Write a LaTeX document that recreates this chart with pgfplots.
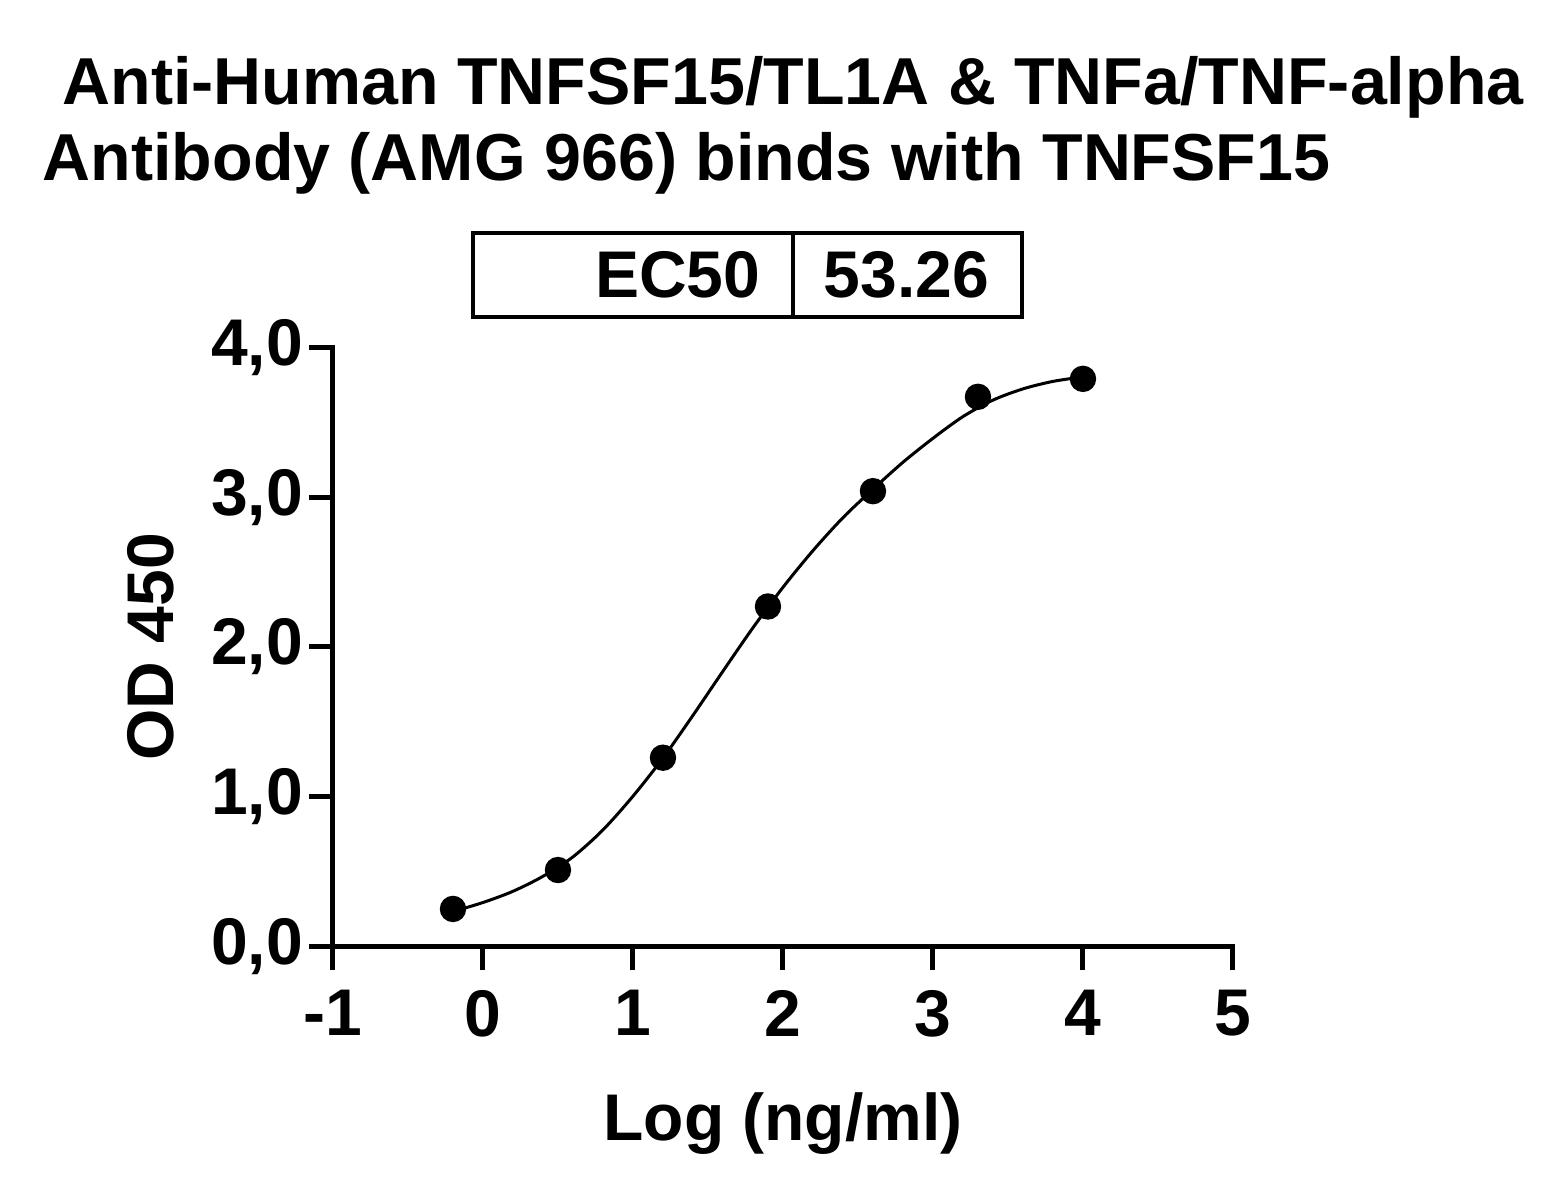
\documentclass[border=0pt]{standalone}
\usepackage{pgfplots}
\pgfplotsset{compat=1.18}
\usepackage{fontspec}
\setmainfont{Liberation Sans}
\begin{document}
\begin{tikzpicture}
\begin{axis}[
  scale only axis, width=225pt, height=149.75pt,
  xmin=-1, xmax=5, ymin=0, ymax=4,
  axis x line*=bottom, axis y line*=left,
  axis line style={line width=1.25pt, line cap=rect},
  tick align=outside,
  xtick={-1,0,1,2,3,4,5}, ytick={0,1,2,3,4},
  minor tick num=0,
  major tick length=6pt,
  tick style={line width=1.25pt, black},
  font=\fontsize{16.5}{19}\selectfont\bfseries,
  /pgf/number format/assume math mode=true,
  yticklabel style={xshift=2pt, /pgf/number format/.cd, fixed, fixed zerofill, precision=1, use comma},
  xticklabel style={yshift=-1.5pt, /pgf/number format/.cd, fixed, precision=0},
  xlabel={Log (ng/ml)},
  ylabel={OD 450},
  xlabel style={yshift=-7pt, font=\fontsize{16.5}{19}\selectfont\bfseries},
  ylabel style={yshift=2.5pt, font=\fontsize{16.5}{19}\selectfont\bfseries},
  clip=false,
]
\path (axis cs:-3.22,-1.647) rectangle (axis cs:7.227,6.32);
% fitted curve (traced)
\addplot[black, line width=0.75pt, smooth, no marks] coordinates {
(-0.2,0.233) (0.0,0.293) (0.2,0.368) (0.4,0.468) (0.6,0.598) (0.8,0.778)
(1.0,1.003) (1.2,1.258) (1.4,1.543) (1.6,1.838) (1.8,2.128) (2.0,2.398)
(2.2,2.643) (2.4,2.863) (2.6,3.053) (2.8,3.233) (3.0,3.393) (3.2,3.538)
(3.4,3.648) (3.6,3.723) (3.8,3.773) (4.0,3.803)
};
% data points
\addplot[only marks, mark=*, mark size=3.1pt, black] coordinates {
(-0.2,0.25) (0.5,0.51) (1.2,1.26) (1.9,2.27) (2.6,3.04) (3.3,3.67) (4.0,3.79)
};
% EC50 box
\draw[line width=1pt] (axis cs:-0.067,4.2) rectangle (axis cs:3.593,4.767);
\draw[line width=1pt] (axis cs:2.067,4.2) -- (axis cs:2.067,4.767);
\node[anchor=base east, inner sep=0pt, font=\fontsize{16.5}{19}\selectfont\bfseries] at (axis cs:1.853,4.33) {EC50};
\node[anchor=base west, inner sep=0pt, font=\fontsize{16.5}{19}\selectfont\bfseries] at (axis cs:2.267,4.33) {53.26};
% title
\node[anchor=base west, inner sep=0pt, font=\fontsize{16.6}{19}\selectfont\bfseries] at (axis cs:-2.807,5.623) {Anti-Human TNFSF15/TL1A \& TNFa/TNF-alpha};
\node[anchor=base west, inner sep=0pt, font=\fontsize{16.6}{19}\selectfont\bfseries] at (axis cs:-2.94,5.115) {Antibody (AMG 966) binds with TNFSF15};
\end{axis}
\end{tikzpicture}
\end{document}
